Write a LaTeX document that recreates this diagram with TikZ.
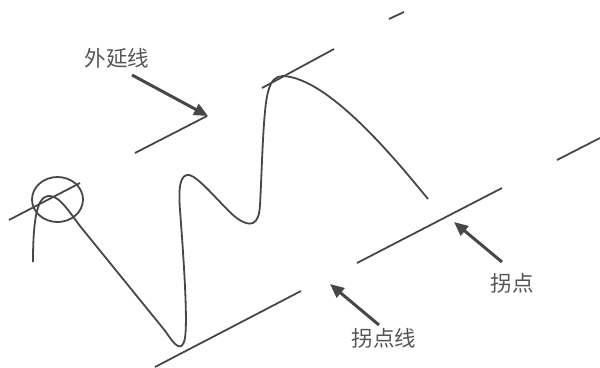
\documentclass[tikz,border=0pt]{standalone}
\usepackage{fontspec}
\newfontfamily\cjk{Noto Sans CJK SC}
\usetikzlibrary{arrows.meta}
\definecolor{ink}{HTML}{474747}
\definecolor{txt}{HTML}{555555}
\begin{document}
\begin{tikzpicture}[x=1pt,y=-1pt,
  guide/.style={draw=ink,line width=1.8pt},
  curve/.style={draw=ink,line width=1.8pt},
  pointer/.style={draw=ink,line width=3pt,-{Triangle[length=14pt,width=12pt]}},
  lbl/.style={text=txt,font=\cjk\fontsize{21.5}{24}\selectfont,inner sep=0pt}]
\useasboundingbox[fill=white] (0,0) rectangle (600,367);
% guide lines
\draw[guide] (9,220) -- (80,183);
\draw[guide] (135,153) -- (207,116);
\draw[guide] (262,88) -- (334,49);
\draw[guide] (389,19) -- (404,12);
\draw[guide] (557,160) -- (600,138);
\draw[guide] (155,367) -- (301,291);
\draw[guide] (357,263) -- (502,188);
% circle
\draw[curve] (57.5,199.5) ellipse [x radius=25.5, y radius=22.5];
% price curve
\draw[curve] (33,262) .. controls (33,225) and (36,197) .. (48,196)
  .. controls (58,195) and (66,207) .. (80,226)
  -- (166,332)
  .. controls (175,346) and (182,353) .. (185,338)
  .. controls (188,318) and (183,250) .. (180,210)
  .. controls (178,185) and (181,174) .. (189,175)
  .. controls (200,177) and (225,210) .. (238,219)
  .. controls (250,227) and (259,226) .. (260,205)
  .. controls (262,170) and (263,110) .. (268,92)
  .. controls (271,80) and (276,76) .. (283,76)
  .. controls (330,78) and (400,165) .. (428,199);
% labels
\node[lbl] (ext) at (117,58) {外延线};
\node[lbl] (ip) at (512,283) {拐点};
\node[lbl] (ipl) at (384,338) {拐点线};
% arrows
\coordinate (extT) at (132,75);
\coordinate (extH) at (208,116);
\coordinate (ipT) at (502,262);
\coordinate (ipH) at (454,222);
\coordinate (iplT) at (379,325);
\coordinate (iplH) at (330,284);
\draw[pointer] (extT) -- (extH);
\draw[pointer] (ipT) -- (ipH);
\draw[pointer] (iplT) -- (iplH);
\end{tikzpicture}
\end{document}
